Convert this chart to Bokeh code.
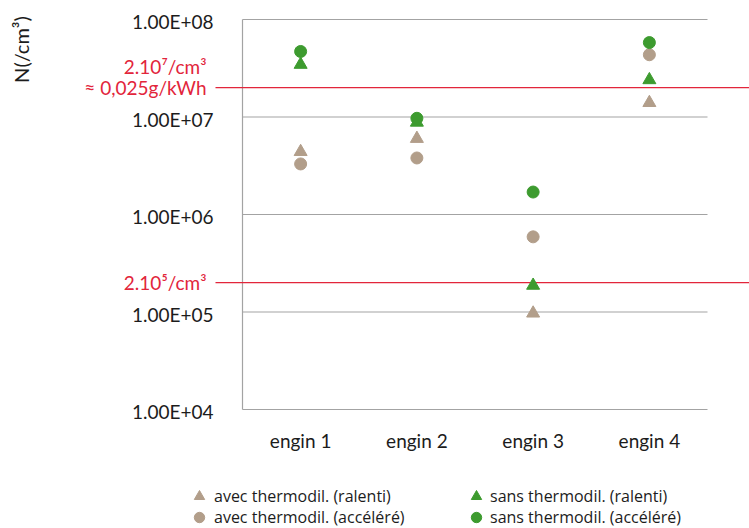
from bokeh.plotting import figure
from bokeh.models import Range1d, Label, Legend, LegendItem, ColumnDataSource
from bokeh.core.properties import value
from bokeh.embed import file_html
from bokeh.resources import INLINE
import math

# --- data -------------------------------------------------------------
categories = ["engin 1", "engin 2", "engin 3", "engin 4"]
avec_ralenti = [4.4e6, 6.0e6, 9.7e4, 1.4e7]
avec_accelere = [3.3e6, 3.8e6, 5.9e5, 4.35e7]
sans_ralenti = [3.45e7, 8.8e6, 1.87e5, 2.4e7]
sans_accelere = [4.7e7, 9.7e6, 1.7e6, 5.8e7]
y_ticks = [1e4, 1e5, 1e6, 1e7, 1e8]
limit_values = [2e7, 2e5]
limit_texts = [["2.10\u2077/cm\u00b3", "\u2248 0,025g/kWh"], ["2.10\u2075/cm\u00b3"]]

# --- styling ----------------------------------------------------------
TAN = "#b29e8a"
GREEN = "#3d9b2f"
RED = "#e2253b"
GRID = "#a3a3a3"
INK = "#1c1c1c"
FONT = "Lato"
FS = "19px"

W, H = 749, 528
# pixel layout of the plotting area (x 0.5..4.5, y 1e4..1e8)
PL, PR, PT, PB = 242, 707, 19, 409
xpos = list(range(1, len(categories) + 1))
XU = 4 / (PR - PL)            # data units per pixel along x
DEC = (PB - PT) / 4           # pixels per decade along y


def px_x(px):
    return 0.5 + (px - PL) * XU


def px_y(py):
    return 10 ** (8 - (py - PT) / DEC)


# the canvas is one frame so that labels, threshold lines and the legend
# can sit outside the plotting area without being clipped
p = figure(width=W, height=H, y_axis_type="log",
           x_range=Range1d(px_x(0), px_x(W)), y_range=Range1d(px_y(H), px_y(0)),
           x_axis_location=None, y_axis_location=None,
           output_backend="svg", toolbar_location=None,
           min_border=0)
p.outline_line_color = None
p.xgrid.visible = False
p.ygrid.visible = False
p.background_fill_color = "white"
p.border_fill_color = "white"

# grid lines and left edge of the plotting area
p.segment(x0=[0.5] * len(y_ticks), x1=[4.5] * len(y_ticks), y0=y_ticks, y1=y_ticks,
          line_color=GRID, line_width=1.2)
p.segment(x0=[0.5], x1=[0.5], y0=[y_ticks[0]], y1=[y_ticks[-1]],
          line_color=GRID, line_width=1.2)

# tick labels
p.text(x=[px_x(213)] * len(y_ticks), y=y_ticks, text=[f"{v:.2E}" for v in y_ticks],
       text_align="right", text_baseline="middle", y_offset=2,
       text_font=value(FONT), text_font_size=FS, text_color=INK)
p.text(x=xpos, y=[px_y(440)] * len(xpos), text=categories,
       text_align="center", text_baseline="middle",
       text_font=value(FONT), text_font_size=FS, text_color=INK)

# threshold lines
p.segment(x0=[px_x(215)] * len(limit_values), x1=[px_x(W)] * len(limit_values),
          y0=limit_values, y1=limit_values, line_color=RED, line_width=1.4)

# series
src = ColumnDataSource(dict(x=xpos, ar=avec_ralenti, aa=avec_accelere,
                            sr=sans_ralenti, sa=sans_accelere))
r_ar = p.scatter("x", "ar", source=src, marker="triangle", size=13,
                 fill_color=TAN, line_color=TAN)
r_aa = p.scatter("x", "aa", source=src, marker="circle", size=12,
                 fill_color=TAN, line_color=TAN)
r_sr = p.scatter("x", "sr", source=src, marker="triangle", size=13,
                 fill_color=GREEN, line_color=GREEN)
r_sa = p.scatter("x", "sa", source=src, marker="circle", size=12,
                 fill_color=GREEN, line_color=GREEN)

# threshold labels
for v, lines in zip(limit_values, limit_texts):
    for i, t in enumerate(reversed(lines)):
        p.add_layout(Label(x=px_x(206), y=v, y_offset=21 * i, text=t,
                           text_align="right", text_baseline="middle",
                           text_font=FONT, text_font_size=FS, text_color=RED))

# y axis title
p.add_layout(Label(x=px_x(20), y=px_y(49), text="N(/cm\u00b3)", angle=math.pi / 2,
                   text_align="center", text_baseline="middle",
                   text_font=FONT, text_font_size="20px", text_color=INK))


# legend: one entry per box so the rows can sit closer than the glyph box
def legend_entry(label, renderer, left, row_center, standoff):
    return Legend(items=[LegendItem(label=label, renderers=[renderer])],
                  location=(left, H - row_center - 13), orientation="vertical",
                  glyph_width=26, glyph_height=26, label_height=26,
                  label_standoff=standoff, padding=0, margin=0,
                  border_line_alpha=0, background_fill_alpha=0,
                  label_text_font="Open Sans", label_text_font_size="16px",
                  label_text_color=INK)


p.add_layout(legend_entry("avec thermodil. (ralenti)", r_ar, 186, 495.5, 2))
p.add_layout(legend_entry("avec thermodil. (accéléré)", r_aa, 186, 517, 2))
p.add_layout(legend_entry("sans thermodil. (ralenti)", r_sr, 463, 495.5, 1))
p.add_layout(legend_entry("sans thermodil. (accéléré)", r_sa, 463, 517, 1))

open("out.html", "w").write(file_html(p, INLINE))
